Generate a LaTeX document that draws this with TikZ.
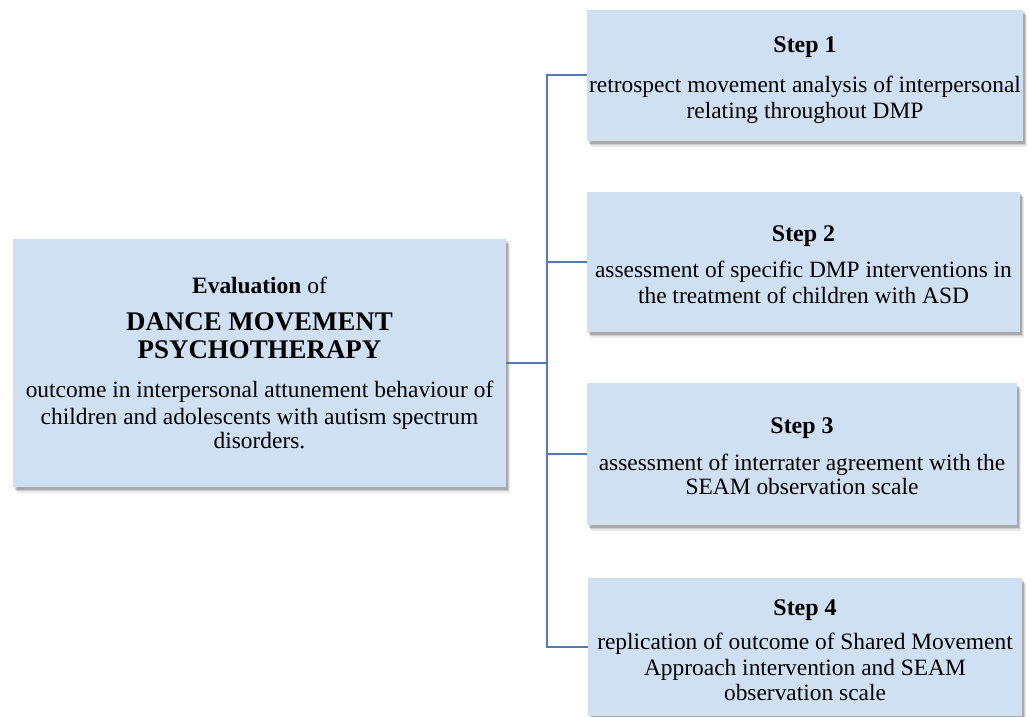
\documentclass[tikz,border=0pt]{standalone}
\usepackage{fontspec}
\setmainfont{Liberation Serif}
\usetikzlibrary{shadows}
\definecolor{boxfill}{RGB}{207,224,242}
\definecolor{linkblue}{RGB}{79,125,178}
\begin{document}
\begin{tikzpicture}[x=1bp,y=-1bp,
  box/.style={draw=none, fill=boxfill, inner sep=0pt,
    drop shadow={shadow xshift=4bp, shadow yshift=-5.5bp, fill=black, opacity=0.08},
    drop shadow={shadow xshift=3bp, shadow yshift=-4bp, fill=black, opacity=0.12},
    drop shadow={shadow xshift=2bp, shadow yshift=-2.5bp, fill=black, opacity=0.18}},
  bodytext/.style={anchor=base, inner sep=0pt, font=\fontsize{23.5}{26}\selectfont},
  steptitle/.style={anchor=base, inner sep=0pt, font=\bfseries\fontsize{24}{28}\selectfont},
  bigtitle/.style={anchor=base, inner sep=0pt, font=\bfseries\fontsize{27}{30}\selectfont},
  link/.style={draw=linkblue, line width=2bp}]
\useasboundingbox (0,0) rectangle (1029,717);

% main box
\node[box, minimum width=493bp, minimum height=248bp] (main) at (259.5,363) {};
\node[bodytext] (m1) at (259.5,293) {\textbf{Evaluation} of};
\node[bigtitle] (m2) at (259.5,330) {DANCE MOVEMENT};
\node[bigtitle] (m3) at (259.5,358) {PSYCHOTHERAPY};
\node[bodytext] (m4) at (259.5,397) {outcome in interpersonal attunement behaviour of};
\node[bodytext] (m5) at (259.5,424) {children and adolescents with autism spectrum};
\node[bodytext] (m6) at (259.5,448) {disorders.};

% step boxes
\node[box, minimum width=436bp, minimum height=131bp] (s1) at (805,75.5) {};
\node[steptitle] (s1t) at (805,53) {Step 1};
\node[bodytext] (s1a) at (805,92.7) {retrospect movement analysis of interpersonal};
\node[bodytext] (s1b) at (805,118.3) {relating throughout DMP};

\node[box, minimum width=433bp, minimum height=140bp] (s2) at (803.5,262) {};
\node[steptitle] (s2t) at (803.5,241) {Step 2};
\node[bodytext] (s2a) at (803.5,277.7) {assessment of specific DMP interventions in};
\node[bodytext] (s2b) at (803.5,303.3) {the treatment of children with ASD};

\node[box, minimum width=430bp, minimum height=142bp] (s3) at (802,454) {};
\node[steptitle] (s3t) at (802,433) {Step 3};
\node[bodytext] (s3a) at (802,470.7) {assessment of interrater agreement with the};
\node[bodytext] (s3b) at (802,494.7) {SEAM observation scale};

\node[box, minimum width=434bp, minimum height=138bp] (s4) at (805,647) {};
\node[steptitle] (s4t) at (805,615) {Step 4};
\node[bodytext] (s4a) at (805,649) {replication of outcome of Shared Movement};
\node[bodytext] (s4b) at (805,675) {Approach intervention and SEAM};
\node[bodytext] (s4c) at (805,700) {observation scale};

% connectors
\coordinate (hub) at (547,363);
\draw[link] (main.east) -- (hub);
\draw[link] (s1.west) -| (hub);
\draw[link] (s2.west) -| (hub);
\draw[link] (s3.west) -| (hub);
\draw[link] (s4.west) -| (hub);
\end{tikzpicture}
\end{document}
